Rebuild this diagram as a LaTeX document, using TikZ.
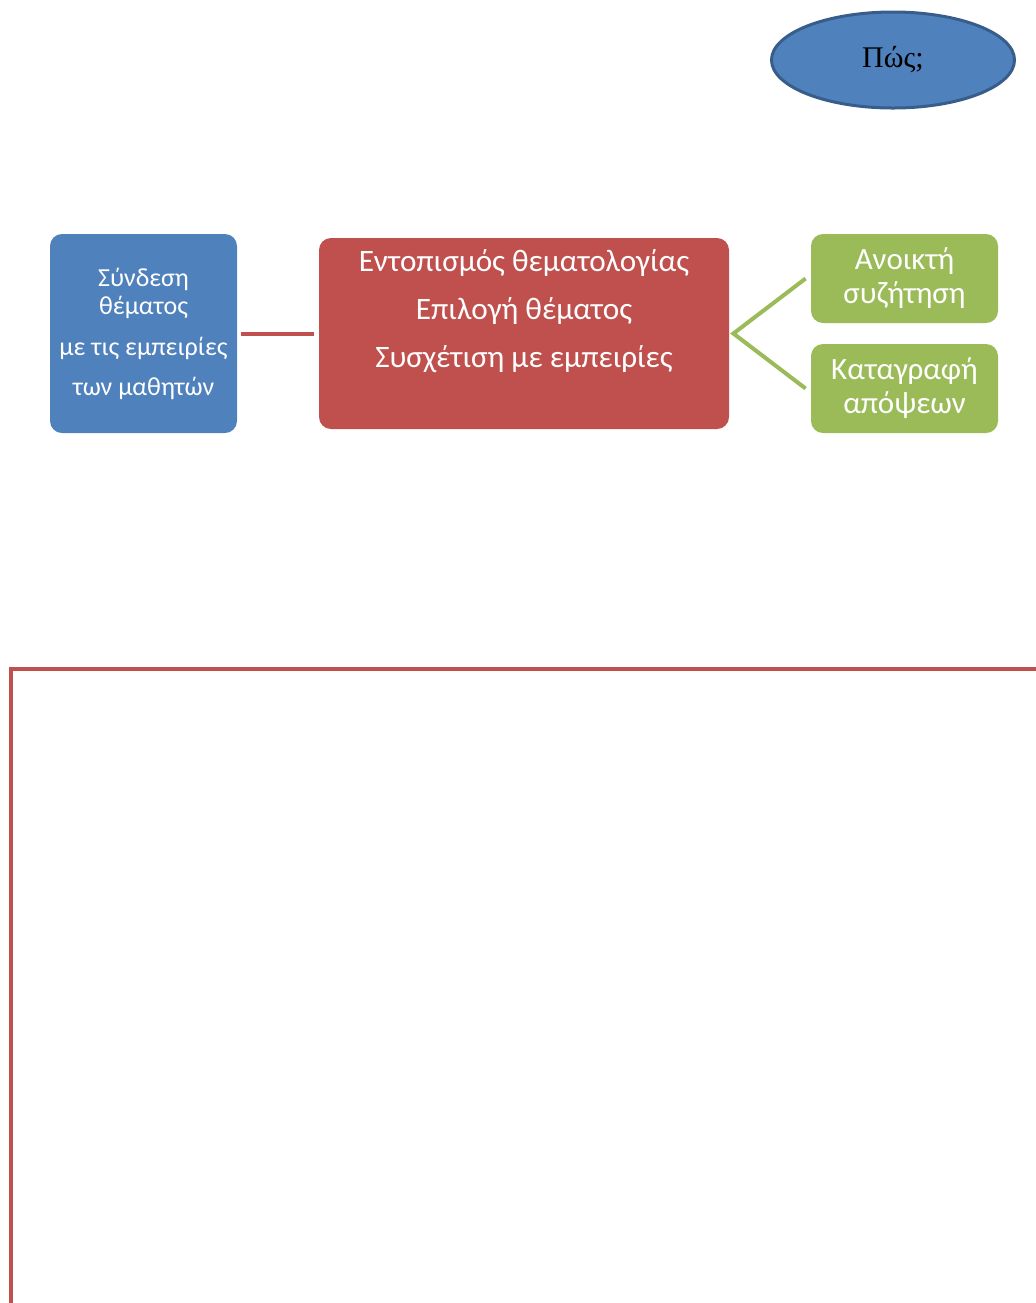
\documentclass[tikz,border=0pt]{standalone}
\usepackage{fontspec}
\setmainfont{Liberation Serif}
\newfontfamily\boxfont{Carlito}
\usetikzlibrary{shapes.geometric}
\definecolor{darkblue}{HTML}{385D8A}
\definecolor{boxblue}{HTML}{4F81BD}
\definecolor{boxred}{HTML}{C0504D}
\definecolor{boxgreen}{HTML}{9BBB59}
\tikzset{card/.style={rounded corners=6pt, inner sep=0pt, align=center, text=white}}
\tikzset{link/.style={line width=2pt}}

\begin{document}
\begin{tikzpicture}[x=0.5pt, y=-0.5pt]

  \newcommand\U{0.5pt}
  \useasboundingbox (0,0) rectangle (1035,1303); %% page

  %% question
  \node[ellipse, fill=boxblue, draw=darkblue, line width=3*\U,
    minimum width=243*\U, minimum height=96*\U,
    font=\fontsize{15}{17}\selectfont] (how) at (893,60) {Πώς;};

  %% boxes
  \node[card, fill=boxblue, minimum width=187*\U, minimum height=199*\U,
    font=\boxfont\fontsize{13}{14}\selectfont]
  (relate) at (143.5,333.5) {Σύνδεση\\θέματος\\[6.5pt]με τις εμπειρίες\\[6pt]των μαθητών};
  \node[card, fill=boxred, minimum width=410*\U, minimum height=191*\U,
    font=\boxfont\fontsize{15.6}{24}\selectfont]
  (topic) at (524,333.5) {Εντοπισμός θεματολογίας\\Επιλογή θέματος\\Συσχέτιση με εμπειρίες\\[-6pt]\strut};
  \node[card, fill=boxgreen, minimum width=187*\U, minimum height=89*\U,
    font=\boxfont\fontsize{15.5}{17}\selectfont]
  (talk) at (904.5,278.5) {Ανοικτή\\συζήτηση};
  \node[card, fill=boxgreen, minimum width=187*\U, minimum height=89*\U,
    font=\boxfont\fontsize{15.5}{17}\selectfont]
  (views) at (904.5,388.5) {Καταγραφή\\απόψεων};

  %% connectors
  \coordinate (fork) at ([xshift=4*\U]topic.east);
  \draw[link, boxred] ([xshift=4*\U]relate.east) -- ([xshift=-5*\U]topic.west);
  \draw[link, boxgreen] ([xshift=-5*\U]talk.west) -- (fork) -- ([xshift=-5*\U]views.west);

  %% frame
  \draw[link, boxred] (11,1330) -- (11,668.5) -- (1060,668.5);

\end{tikzpicture}
\end{document}
